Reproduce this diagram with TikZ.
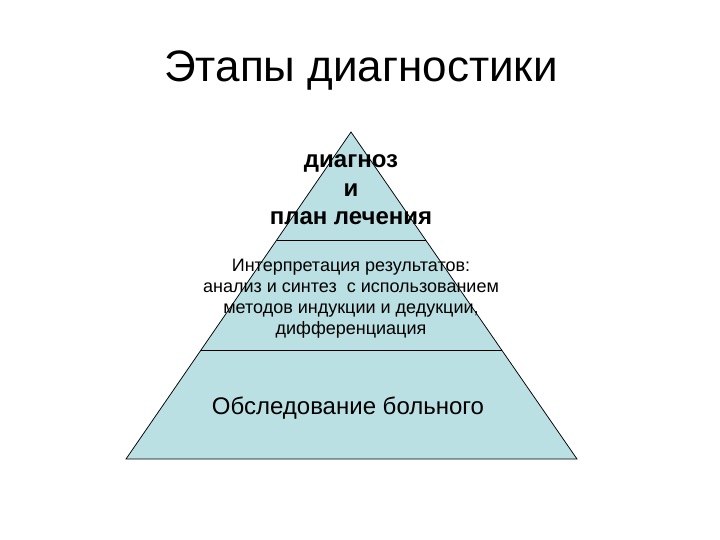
\documentclass[tikz,border=0pt]{standalone}
\usepackage{fontspec}
\setmainfont{Liberation Sans}
\usetikzlibrary{calc}
\definecolor{pyrfill}{HTML}{BBE0E3}
\tikzset{
  pyr/.style={fill=pyrfill, draw=black, line width=0.75pt, line join=miter},
  divider/.style={draw=black, line width=0.75pt},
  txt/.style={inner sep=0pt, outer sep=0pt, align=center, text=black}
}
\begin{document}
\begin{tikzpicture}[x=1pt, y=-1pt]
\useasboundingbox[fill=white] (0,0) rectangle (720,540);
\coordinate (A) at (351,132);
\coordinate (L) at (126,459);
\coordinate (R) at (577,459);
\draw[pyr] (A) -- (L) -- (R) -- cycle;
\coordinate (l1) at ($(A)!0.3303!(L)$);
\coordinate (r1) at ($(A)!0.3303!(R)$);
\coordinate (l2) at ($(A)!0.6667!(L)$);
\coordinate (r2) at ($(A)!0.6667!(R)$);
\draw[divider] (l1) -- (r1);
\draw[divider] (l2) -- (r2);
\node[txt, anchor=base, font=\fontsize{44}{50}\selectfont] (title) at (361,82) {Этапы диагностики};
\node[txt, font=\fontsize{24}{28.5}\selectfont\bfseries] (top) at (351,190) {диагноз\\и\\план лечения};
\node[txt, font=\fontsize{18}{21.2}\selectfont] (mid) at (351,298.5) {Интерпретация результатов:\\анализ и синтез \ с использованием\\методов индукции и дедукции,\\дифференциация};
\node[txt, anchor=base, font=\fontsize{24}{28}\selectfont] (bot) at (348,414) {Обследование больного};
\end{tikzpicture}
\end{document}
